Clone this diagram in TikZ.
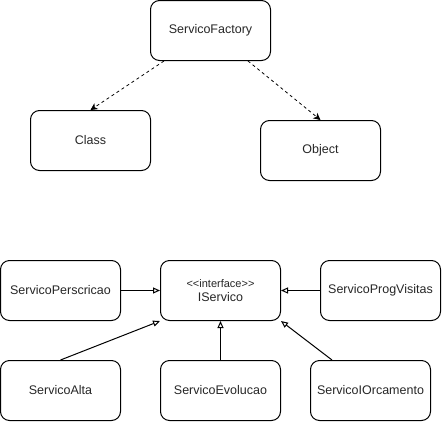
\documentclass[tikz,border=0pt]{standalone}
\usepackage{fontspec}
\setmainfont{Liberation Sans}
\usetikzlibrary{arrows.meta}

\tikzset{
  box/.style={draw, rounded corners=9pt, minimum width=120pt, minimum height=60pt,
    align=center, line width=1pt, text=black!85, font=\fontsize{12.5}{14.5}\selectfont},
  uses/.style={-{Stealth[length=7pt,width=7pt,inset=2pt]}, line width=0.8pt,
    dash pattern=on 3pt off 3pt},
  realizes/.style={-{Triangle[open,length=7pt,width=6pt]}, line width=1pt}
}

\begin{document}
\begin{tikzpicture}[x=1pt,y=-1pt]
  \useasboundingbox (0,0) rectangle (442,421);
  % factory part
  \node[box] (factory) at (210.5,30.5) {ServicoFactory};
  \node[box] (cls) at (90.5,140.5) {Class};
  \node[box] (obj) at (320.5,150.5) {Object};
  % services
  \node[box] (iserv) at (220.5,290.5) {{\fontsize{11}{13}\selectfont <{}<interface>{}>}\\IServico};
  \node[box] (perscricao) at (60.5,290.5) {ServicoPerscricao};
  \node[box] (progvisitas) at (380.5,290.5) {ServicoProgVisitas};
  \node[box] (alta) at (60.5,390.5) {ServicoAlta};
  \node[box] (evolucao) at (220.5,390.5) {ServicoEvolucao};
  \node[box] (orcamento) at (370.5,390.5) {ServicoIOrcamento};

  \path[uses]
    ([xshift=14pt]factory.south west) edge (cls.north)
    ([xshift=-23pt]factory.south east) edge (obj.north);
  \path[realizes]
    (perscricao.east) edge (iserv.west)
    (progvisitas.west) edge (iserv.east)
    (alta.north) edge (iserv.south west)
    (evolucao.north) edge (iserv.south)
    ([xshift=22pt]orcamento.north west) edge (iserv.south east);
\end{tikzpicture}
\end{document}
